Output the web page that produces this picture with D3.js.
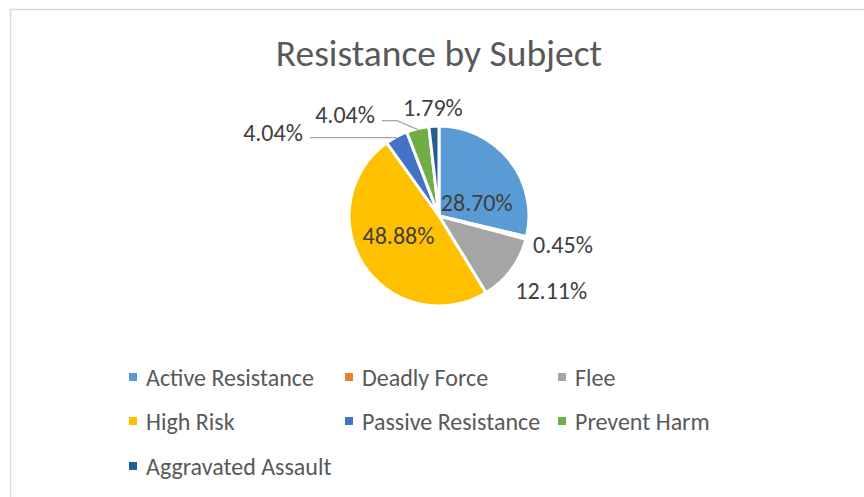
<!DOCTYPE html>
<html><head><meta charset="utf-8">
<script src="https://cdn.jsdelivr.net/npm/d3@7"></script>
<style>
html,body{margin:0;padding:0;background:#fff;}
svg{display:block;}
</style></head>
<body>
<script>
const categories = ["Active Resistance","Deadly Force","Flee","High Risk","Passive Resistance","Prevent Harm","Aggravated Assault"];
const values = [28.70, 0.45, 12.11, 48.88, 4.04, 4.04, 1.79];
const labels = ["28.70%","0.45%","12.11%","48.88%","4.04%","4.04%","1.79%"];
const colors = ["#5B9BD5","#ED7D31","#A5A5A5","#FFC000","#4472C4","#70AD47","#255E91"];
const title = "Resistance by Subject";

const W = 864, H = 497;
const FONT = "Carlito, Calibri, Lato, sans-serif";
const svg = d3.select("body").append("svg").attr("width", W).attr("height", H);

// chart border
svg.append("rect").attr("x", 10.5).attr("y", 9.5).attr("width", W).attr("height", H)
  .attr("fill", "#fff").attr("stroke", "#d9d9d9").attr("stroke-width", 1.5);

svg.append("text").attr("x", 439).attr("y", 66).attr("text-anchor", "middle")
  .attr("font-family", FONT).attr("font-size", 37.5).attr("fill", "#595959").text(title);

const cx = 439, cy = 216, R = 90;
const pie = d3.pie().sort(null).value(d => d)(values);
const arc = d3.arc().innerRadius(0).outerRadius(R);
const g = svg.append("g").attr("transform", `translate(${cx},${cy})`);
g.selectAll("path").data(pie).join("path")
  .attr("d", arc).attr("fill", (d, i) => colors[i])
  .attr("stroke", "#fff").attr("stroke-width", 3).attr("stroke-linejoin", "round");

// label placement: mode + radial distance + anchor
const place = [
  {mode: "in", r: 0.45, dx: 6, dy: 12, anchor: "middle"},
  {mode: "out", r: 1.42, dx: 0, dy: -3, anchor: "middle"},
  {mode: "out", r: 1.5, dx: 4, dy: -6, anchor: "middle"},
  {mode: "in", r: 0.5, dx: -3, dy: -5, anchor: "middle"},
  {mode: "lead", hx: -87, hy: 0, tx: -7, ty: -5, anchor: "end"},
  {mode: "lead", hx: -36, hy: -9, tx: -7, ty: -6, anchor: "end"},
  {mode: "out", r: 1.21, dx: 0, dy: 0, anchor: "middle"}
];

const lab = svg.append("g").attr("font-family", FONT).attr("font-size", 24).attr("fill", "#404040");
pie.forEach((d, i) => {
  const a = (d.startAngle + d.endAngle) / 2;
  const ux = Math.sin(a), uy = -Math.cos(a);
  const p = place[i];
  let x, y;
  if (p.mode === "lead") {
    const ex = cx + ux * (R - 1), ey = cy + uy * (R - 1);
    const bx = ex + (p.hy !== 0 ? -21 : 0), by = ey + p.hy;
    const hx = ex + p.hx;
    svg.append("polyline")
      .attr("points", `${ex},${ey} ${bx},${by} ${hx},${by}`)
      .attr("fill", "none").attr("stroke", "#a6a6a6").attr("stroke-width", 1.3);
    x = hx + p.tx; y = by + p.ty;
  } else {
    x = cx + ux * R * p.r + p.dx; y = cy + uy * R * p.r + p.dy;
  }
  lab.append("text").attr("x", x).attr("y", y).attr("text-anchor", p.anchor)
    .attr("dominant-baseline", "central").text(labels[i]);
});

// legend
const lg = svg.append("g").attr("font-family", FONT).attr("font-size", 24).attr("fill", "#595959");
const colX = [133, 349, 562], rowY = [377, 421, 466];
categories.forEach((c, i) => {
  const col = i % 3, row = Math.floor(i / 3);
  const x = colX[col], y = rowY[row];
  lg.append("rect").attr("x", x - 4).attr("y", y - 4).attr("width", 8).attr("height", 8).attr("fill", colors[i]);
  lg.append("text").attr("x", x + 13).attr("y", y).attr("dominant-baseline", "central").text(c);
});
</script>
</body></html>
